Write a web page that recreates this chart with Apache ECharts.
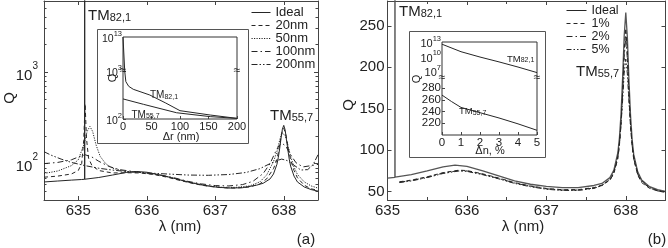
<!DOCTYPE html>
<html><head><meta charset="utf-8">
<script src="https://cdn.jsdelivr.net/npm/echarts@6/dist/echarts.min.js"></script>
<style>html,body{margin:0;padding:0;background:#fff}#c{width:668px;height:248px}</style>
</head><body><div id="c"></div>
<script>
// ---------- data ----------
// panel (a): Q vs wavelength for several roughness amplitudes
const legendA = ['Ideal', '20nm', '50nm', '100nm', '200nm'];
const a_ideal = [[634.5,63],[634.7,64.5],[634.9,66],[635.05,67],[635.093,67.4],[635.094,1e13],[635.095,67.5],[635.3,70.5],[635.5,75],[635.7,80],[635.85,82],[636.0,80.5],[636.2,75],[636.4,69],[636.6,63],[636.8,58.5],[637.0,55.5],[637.2,54],[637.4,54.5],[637.6,58],[637.7,61],[637.8,68],[637.85,77],[637.9,98],[637.92,116],[637.94,145],[637.96,188],[637.98,238],[638.0,262],[638.02,234],[638.04,183],[638.06,141],[638.08,112],[638.1,94],[638.15,73],[638.2,63],[638.3,55.5],[638.4,52],[638.5,50]];
const a_20 = [[634.5,71],[634.7,73],[634.9,77],[635.0,84],[635.05,100],[635.08,180],[635.1,450],[635.12,190],[635.15,115],[635.2,95],[635.3,84],[635.5,79],[635.7,79.5],[635.9,79],[636.1,76],[636.3,71],[636.5,65],[636.7,60],[636.9,56.5],[637.1,54.5],[637.3,54],[637.5,55.5],[637.65,60],[637.75,68],[637.85,88],[637.9,110],[637.94,160],[637.97,215],[638.0,243],[638.03,210],[638.06,155],[638.1,110],[638.15,84],[638.2,70],[638.3,58],[638.4,53],[638.5,51]];
const a_50 = [[634.5,78],[634.7,83],[634.9,95],[635.0,110],[635.08,160],[635.13,225],[635.17,255],[635.21,225],[635.26,160],[635.32,120],[635.4,100],[635.5,89],[635.7,82],[635.9,80],[636.1,77],[636.3,72],[636.5,66],[636.7,61],[636.9,57],[637.1,55],[637.3,55],[637.5,57],[637.65,63],[637.75,75],[637.85,105],[637.9,135],[637.94,180],[637.97,215],[637.99,221],[638.02,205],[638.06,160],[638.1,120],[638.15,92],[638.2,76],[638.3,63],[638.4,57],[638.5,54]];
const a_100 = [[634.5,100],[634.7,103],[634.9,110],[635.0,118],[635.1,125],[635.2,118],[635.3,106],[635.45,93],[635.6,86],[635.8,82],[636.0,79],[636.2,75],[636.4,70],[636.6,64],[636.8,60],[637.0,57.5],[637.2,57],[637.4,59],[637.55,64],[637.7,78],[637.8,100],[637.87,130],[637.93,158],[637.98,166],[638.03,155],[638.1,125],[638.18,102],[638.28,92],[638.4,95],[638.5,98]];
const a_200 = [[634.5,135],[634.6,124],[634.75,112],[634.9,103],[635.1,95],[635.3,89],[635.5,85],[635.7,82],[636.0,79],[636.3,77],[636.6,75],[636.9,74.5],[637.2,76],[637.45,80],[637.65,88],[637.8,100],[637.9,108],[637.97,112],[638.05,108],[638.15,96],[638.25,85],[638.35,86],[638.43,98],[638.5,125]];

// panel (b): Q vs wavelength for refractive index perturbation
const legendB = ['Ideal', '1%', '2%', '5%'];
const b_ideal = [[635.0,66.5],[635.093,67.4],[635.094,1e13],[635.095,67.5],[635.3,70.5],[635.5,75],[635.7,80],[635.85,82],[636.0,80.5],[636.2,75],[636.4,69],[636.6,63],[636.8,59],[637.0,56.5],[637.2,55],[637.4,55],[637.6,57.5],[637.7,60],[637.8,67],[637.85,76],[637.9,97],[637.92,115],[637.94,144],[637.96,187],[637.98,238],[638.0,266],[638.02,236],[638.04,184],[638.06,142],[638.08,113],[638.1,95],[638.15,74],[638.2,64],[638.3,56],[638.4,52.5],[638.5,50.5]];
const b_1 = [[635.15,62],[635.3,64],[635.5,68],[635.7,73],[635.9,76],[636.0,75.5],[636.2,71.5],[636.4,66.5],[636.6,61],[636.8,57],[637.0,54],[637.2,52.5],[637.4,52.5],[637.6,55],[637.7,58],[637.8,64],[637.85,72],[637.9,90],[637.92,106],[637.94,131],[637.96,170],[637.98,220],[638.0,247],[638.02,218],[638.04,168],[638.06,130],[638.08,105],[638.1,89],[638.15,70],[638.2,61],[638.3,54],[638.4,51],[638.5,49]];
const b_2 = [[635.15,61.5],[635.3,63.5],[635.5,67.5],[635.7,72.5],[635.9,75.5],[636.0,75],[636.2,71],[636.4,66],[636.6,60.5],[636.8,56.5],[637.0,53.5],[637.2,52],[637.4,52],[637.6,54.5],[637.7,57.5],[637.8,64],[637.85,72.5],[637.9,91],[637.92,107],[637.94,132],[637.96,167],[637.98,212],[638.0,238],[638.02,210],[638.04,165],[638.06,130],[638.08,106],[638.1,90],[638.15,71],[638.2,62],[638.3,54.5],[638.4,51],[638.5,49.5]];
const b_5 = [[635.15,61],[635.3,63],[635.5,67],[635.7,72],[635.9,75],[636.0,74.5],[636.2,70.5],[636.4,65.5],[636.6,60],[636.8,56],[637.0,53],[637.2,51.5],[637.4,51.5],[637.6,54],[637.7,57.5],[637.8,65],[637.85,74],[637.9,93],[637.92,109],[637.94,131],[637.96,160],[637.98,193],[638.0,210],[638.02,192],[638.04,158],[638.06,129],[638.08,107],[638.1,92],[638.15,73],[638.2,63.5],[638.3,55],[638.4,51.5],[638.5,50]];

// inset (a): Q vs delta r (broken log axis)
const ia_tm821_upper = [[0,1e13],[3,1e3]];
const ia_tm821_lower = [[3,1000],[5,600],[10,480],[18,416],[47,316],[75,215],[100,149],[153,121],[200,103]];
const ia_tm557 = [[0,262],[3.5,249],[36,202],[94,135],[153,112],[200,103]];

// inset (b): Q vs delta n (broken axis: log above, linear below)
const ib_tm821 = [[0,3.5e12],[1,1e11],[2,8e9],[3,8e8],[4,7e7],[5,5e6]];
const ib_tm557 = [[0,268],[0.5,257],[1,247],[2,238],[3,229],[4,219],[5,208]];
const ib_upperLabels = [7, 10, 13];

// ---------- styles ----------
const FONT = '"Liberation Sans", Arial, Helvetica, sans-serif';
const INK = '#222';
const AX = '#444';
const LINE = '#262626';
const dashStyles = {
  'Ideal': 'solid', '20nm': [4, 3], '50nm': [1.2, 1.3], '100nm': [6, 3, 1.5, 3], '200nm': [6, 2, 1.5, 2, 1.5, 2],
  '1%': [4, 3], '2%': [6, 3, 1.5, 3], '5%': [5, 2, 1.5, 2, 1.5, 2]
};

function supFmt(allowed) {
  return function (v) {
    const l = Math.log10(v);
    const e = Math.round(l);
    if (Math.abs(l - e) > 1e-6 || allowed.indexOf(e) < 0) return '';
    return '{b|10}{s|' + e + '}';
  };
}
function supRich(big, small, lh, slh) {
  return {
    b: { fontSize: big, fontFamily: FONT, color: INK, lineHeight: lh, verticalAlign: 'bottom' },
    s: { fontSize: small, fontFamily: FONT, color: INK, lineHeight: slh, verticalAlign: 'top' }
  };
}
function tmText(x, y, sub, big, small, lh, slh) {
  return {
    type: 'text', x: x, y: y, z: 30,
    style: {
      text: '{t|TM}{s|' + sub + '}', verticalAlign: 'top', align: 'left',
      rich: {
        t: { fontSize: big, fontFamily: FONT, fill: INK, lineHeight: lh, verticalAlign: 'bottom' },
        s: { fontSize: small, fontFamily: FONT, fill: INK, lineHeight: slh, verticalAlign: 'bottom' }
      }
    }
  };
}
function plainText(x, y, txt, size, rot) {
  return {
    type: 'text', x: x, y: y, rotation: rot || 0, z: 30,
    style: { text: txt, fontSize: size, fontFamily: FONT, fill: INK, align: 'center', verticalAlign: 'middle' }
  };
}

const mainTick = { show: true, inside: true, length: 4, lineStyle: { color: AX, width: 1 } };
const logMinor = { show: true, splitNumber: 9, length: 2.5, lineStyle: { color: AX, width: 1 } };
const axLine = { show: true, lineStyle: { color: AX, width: 1 } };
const mainLabel = { fontSize: 15, fontFamily: FONT, color: INK };

function lineSeries(name, data, xi, yi, extra) {
  const s = {
    type: 'line', name: name, data: data, xAxisIndex: xi, yAxisIndex: yi,
    showSymbol: false, symbol: 'none', silent: true, clip: true, color: LINE,
    itemStyle: { color: LINE },
    lineStyle: { color: LINE, width: 1, type: dashStyles[name] || 'solid' },
    emphasis: { disabled: true }
  };
  return Object.assign(s, extra || {});
}

const option = {
  animation: false,
  backgroundColor: '#fff',
  grid: [
    { left: 44, top: 1, width: 274, height: 199 },                 // 0 main a
    { left: 387.5, top: 1, width: 278, height: 199 },              // 1 main b
    { left: 123, top: 37, width: 114, height: 82, show: true, borderColor: '#333', borderWidth: 1, backgroundColor: '#fff', z: 11 }, // 2 inset a box
    { left: 123, top: 37, width: 114, height: 34, z: 12 },         // 3 inset a upper
    { left: 123, top: 71, width: 114, height: 48, z: 12 },         // 4 inset a lower
    { left: 442, top: 42, width: 95, height: 93, show: true, borderColor: '#333', borderWidth: 1, backgroundColor: '#fff', z: 11 }, // 5 inset b box
    { left: 442, top: 42, width: 95, height: 34, z: 12 },          // 6 inset b upper
    { left: 442, top: 81, width: 95, height: 54, z: 12 }           // 7 inset b lower
  ],
  xAxis: [
    { gridIndex: 0, type: 'value', min: 634.5, max: 638.5, position: 'bottom', axisLine: axLine, axisTick: mainTick, splitLine: { show: false },
      axisLabel: Object.assign({ margin: 3, showMinLabel: false, showMaxLabel: false }, mainLabel) },
    { gridIndex: 0, type: 'value', min: 634.5, max: 638.5, position: 'top', axisLine: axLine, axisTick: mainTick, splitLine: { show: false }, axisLabel: { show: false } },
    { gridIndex: 1, type: 'value', min: 635, max: 638.5, interval: 1, position: 'bottom', axisLine: axLine, axisTick: mainTick, splitLine: { show: false },
      minorTick: { show: true, splitNumber: 2, length: 3, lineStyle: { color: AX } },
      axisLabel: Object.assign({ margin: 3, showMaxLabel: false }, mainLabel) },
    { gridIndex: 1, type: 'value', min: 635, max: 638.5, interval: 1, position: 'top', axisLine: axLine, axisTick: mainTick, splitLine: { show: false },
      minorTick: { show: true, splitNumber: 2, length: 3, lineStyle: { color: AX } }, axisLabel: { show: false } },
    { gridIndex: 2, type: 'value', min: 0, max: 200, interval: 50, z: 12, axisLine: { show: false },
      axisTick: { show: true, inside: true, length: 3, lineStyle: { color: AX } }, splitLine: { show: false },
      axisLabel: { margin: 2, fontSize: 11, fontFamily: FONT, color: INK } },
    { gridIndex: 3, type: 'value', min: 0, max: 200, show: false },
    { gridIndex: 4, type: 'value', min: 0, max: 200, show: false },
    { gridIndex: 5, type: 'value', min: 0, max: 5, interval: 1, z: 12, axisLine: { show: false },
      axisTick: { show: true, inside: true, length: 3, lineStyle: { color: AX } }, splitLine: { show: false },
      axisLabel: { margin: 2, fontSize: 11.5, fontFamily: FONT, color: INK } },
    { gridIndex: 6, type: 'value', min: 0, max: 5, show: false },
    { gridIndex: 7, type: 'value', min: 0, max: 5, show: false }
  ],
  yAxis: [
    { gridIndex: 0, type: 'log', logBase: 10, min: 40, max: 6000, position: 'left', axisLine: axLine, axisTick: mainTick, minorTick: logMinor, splitLine: { show: false },
      axisLabel: { margin: 6, formatter: supFmt([2, 3]), rich: supRich(15, 10, 22, 11), showMinLabel: false, showMaxLabel: false } },
    { gridIndex: 0, type: 'log', logBase: 10, min: 40, max: 6000, position: 'right', axisLine: axLine, axisTick: mainTick, minorTick: logMinor, splitLine: { show: false }, axisLabel: { show: false } },
    { gridIndex: 1, type: 'value', min: 40, max: 280, position: 'left', axisLine: axLine, axisTick: mainTick, splitLine: { show: false },
      axisLabel: Object.assign({ margin: 3, showMinLabel: false, showMaxLabel: false }, mainLabel) },
    { gridIndex: 1, type: 'value', min: 40, max: 280, position: 'right', axisLine: axLine, axisTick: mainTick, splitLine: { show: false }, axisLabel: { show: false } },
    { gridIndex: 2, type: 'value', min: 0, max: 1, show: false },
    { gridIndex: 3, type: 'log', logBase: 10, min: 1e3, max: 1e13, z: 12, axisLine: { show: false }, axisTick: { show: false }, splitLine: { show: false },
      axisLabel: { margin: 1, formatter: supFmt([13]), rich: supRich(10.5, 7.5, 15, 8), showMaxLabel: true, showMinLabel: false } },
    { gridIndex: 4, type: 'log', logBase: 10, min: 100, max: 1000, z: 12, axisLine: { show: false },
      axisTick: { show: true, inside: true, length: 3, lineStyle: { color: AX } }, splitLine: { show: false },
      axisLabel: { margin: 1, formatter: supFmt([2, 3]), rich: supRich(10.5, 7.5, 15, 8), showMaxLabel: true, showMinLabel: true } },
    { gridIndex: 5, type: 'value', min: 0, max: 1, show: false },
    { gridIndex: 6, type: 'log', logBase: 10, min: 1e6, max: 1e13, z: 12, axisLine: { show: false }, axisTick: { show: false }, splitLine: { show: false },
      axisLabel: { margin: 1, formatter: supFmt(ib_upperLabels), rich: supRich(11, 7.5, 15, 8), showMaxLabel: true, showMinLabel: false } },
    { gridIndex: 7, type: 'value', min: 200, max: 292, interval: 20, z: 12, axisLine: { show: false },
      axisTick: { show: true, inside: true, length: 3, lineStyle: { color: AX } }, splitLine: { show: false },
      axisLabel: { margin: 1, fontSize: 11.5, fontFamily: FONT, color: INK, showMaxLabel: false } }
  ],
  legend: [
    { data: legendA, orient: 'vertical', left: 251, top: 6, padding: 0, itemWidth: 19, itemHeight: 10, itemGap: 0, selectedMode: false,
      itemStyle: { opacity: 0 }, lineStyle: { color: LINE, width: 1 },
      textStyle: { fontSize: 13, lineHeight: 12.6, fontFamily: FONT, color: INK } },
    { data: legendB, orient: 'vertical', left: 566, top: 4, padding: 0, itemWidth: 20, itemHeight: 9, itemGap: 0, selectedMode: false,
      itemStyle: { opacity: 0 }, lineStyle: { color: LINE, width: 1 },
      textStyle: { fontSize: 12.5, lineHeight: 10.7, fontFamily: FONT, color: INK } }
  ],
  series: [
    lineSeries('Ideal', a_ideal, 0, 0),
    lineSeries('20nm', a_20, 0, 0),
    lineSeries('50nm', a_50, 0, 0),
    lineSeries('100nm', a_100, 0, 0),
    lineSeries('200nm', a_200, 0, 0),
    lineSeries('Ideal', b_ideal, 2, 2, { lineStyle: { color: '#555', width: 1.3, type: 'solid' } }),
    lineSeries('1%', b_1, 2, 2),
    lineSeries('2%', b_2, 2, 2),
    lineSeries('5%', b_5, 2, 2),
    lineSeries('TM82,1 a up', ia_tm821_upper, 5, 5, { z: 13 }),
    lineSeries('TM82,1 a low', ia_tm821_lower, 6, 6, { z: 13 }),
    lineSeries('TM55,7 a', ia_tm557, 6, 6, { z: 13 }),
    lineSeries('TM82,1 b', ib_tm821, 8, 8, { z: 13 }),
    lineSeries('TM55,7 b', ib_tm557, 9, 9, { z: 13 })
  ],
  graphic: {
    elements: [
      { type: 'rect', z: 10, shape: { x: 97.5, y: 29.5, width: 151, height: 114 }, style: { fill: '#fff', stroke: '#555', lineWidth: 1 } },
      { type: 'rect', z: 10, shape: { x: 409.5, y: 31.5, width: 136, height: 126 }, style: { fill: '#fff', stroke: '#555', lineWidth: 1 } },
      plainText(123, 71, '≈', 12), plainText(237, 71, '≈', 12),
      plainText(442, 78, '≈', 12), plainText(537, 78, '≈', 12),
      tmText(88, 3, '82,1', 15, 11, 20, 11),
      tmText(270, 103, '55,7', 15, 11, 20, 11),
      tmText(399, -1, '82,1', 15, 11, 20, 11),
      tmText(576, 59, '55,7', 15, 11, 20, 11),
      tmText(150, 87.5, '82,1', 10, 7, 13, 7),
      tmText(131.5, 107, '55,7', 10, 7, 13, 7),
      tmText(507, 51, '82,1', 9.5, 7, 13, 7),
      tmText(459, 103.5, '55,7', 9.5, 7, 13, 7),
      plainText(10, 98, 'Q', 15, Math.PI / 2),
      plainText(349, 105, 'Q', 15, Math.PI / 2),
      plainText(180, 226.5, 'λ (nm)', 15),
      plainText(523, 226.5, 'λ (nm)', 15),
      plainText(113, 78, 'Q', 11, Math.PI / 2),
      plainText(417, 79, 'Q', 11, Math.PI / 2),
      plainText(181, 137, 'Δr (nm)', 11),
      plainText(490, 150.5, 'Δn, %', 11),
      plainText(306, 240, '(a)', 15),
      plainText(657, 240, '(b)', 15)
    ]
  }
};

const chart = echarts.init(document.getElementById('c'), null, { renderer: 'canvas' });
chart.setOption(option);
</script></body></html>
